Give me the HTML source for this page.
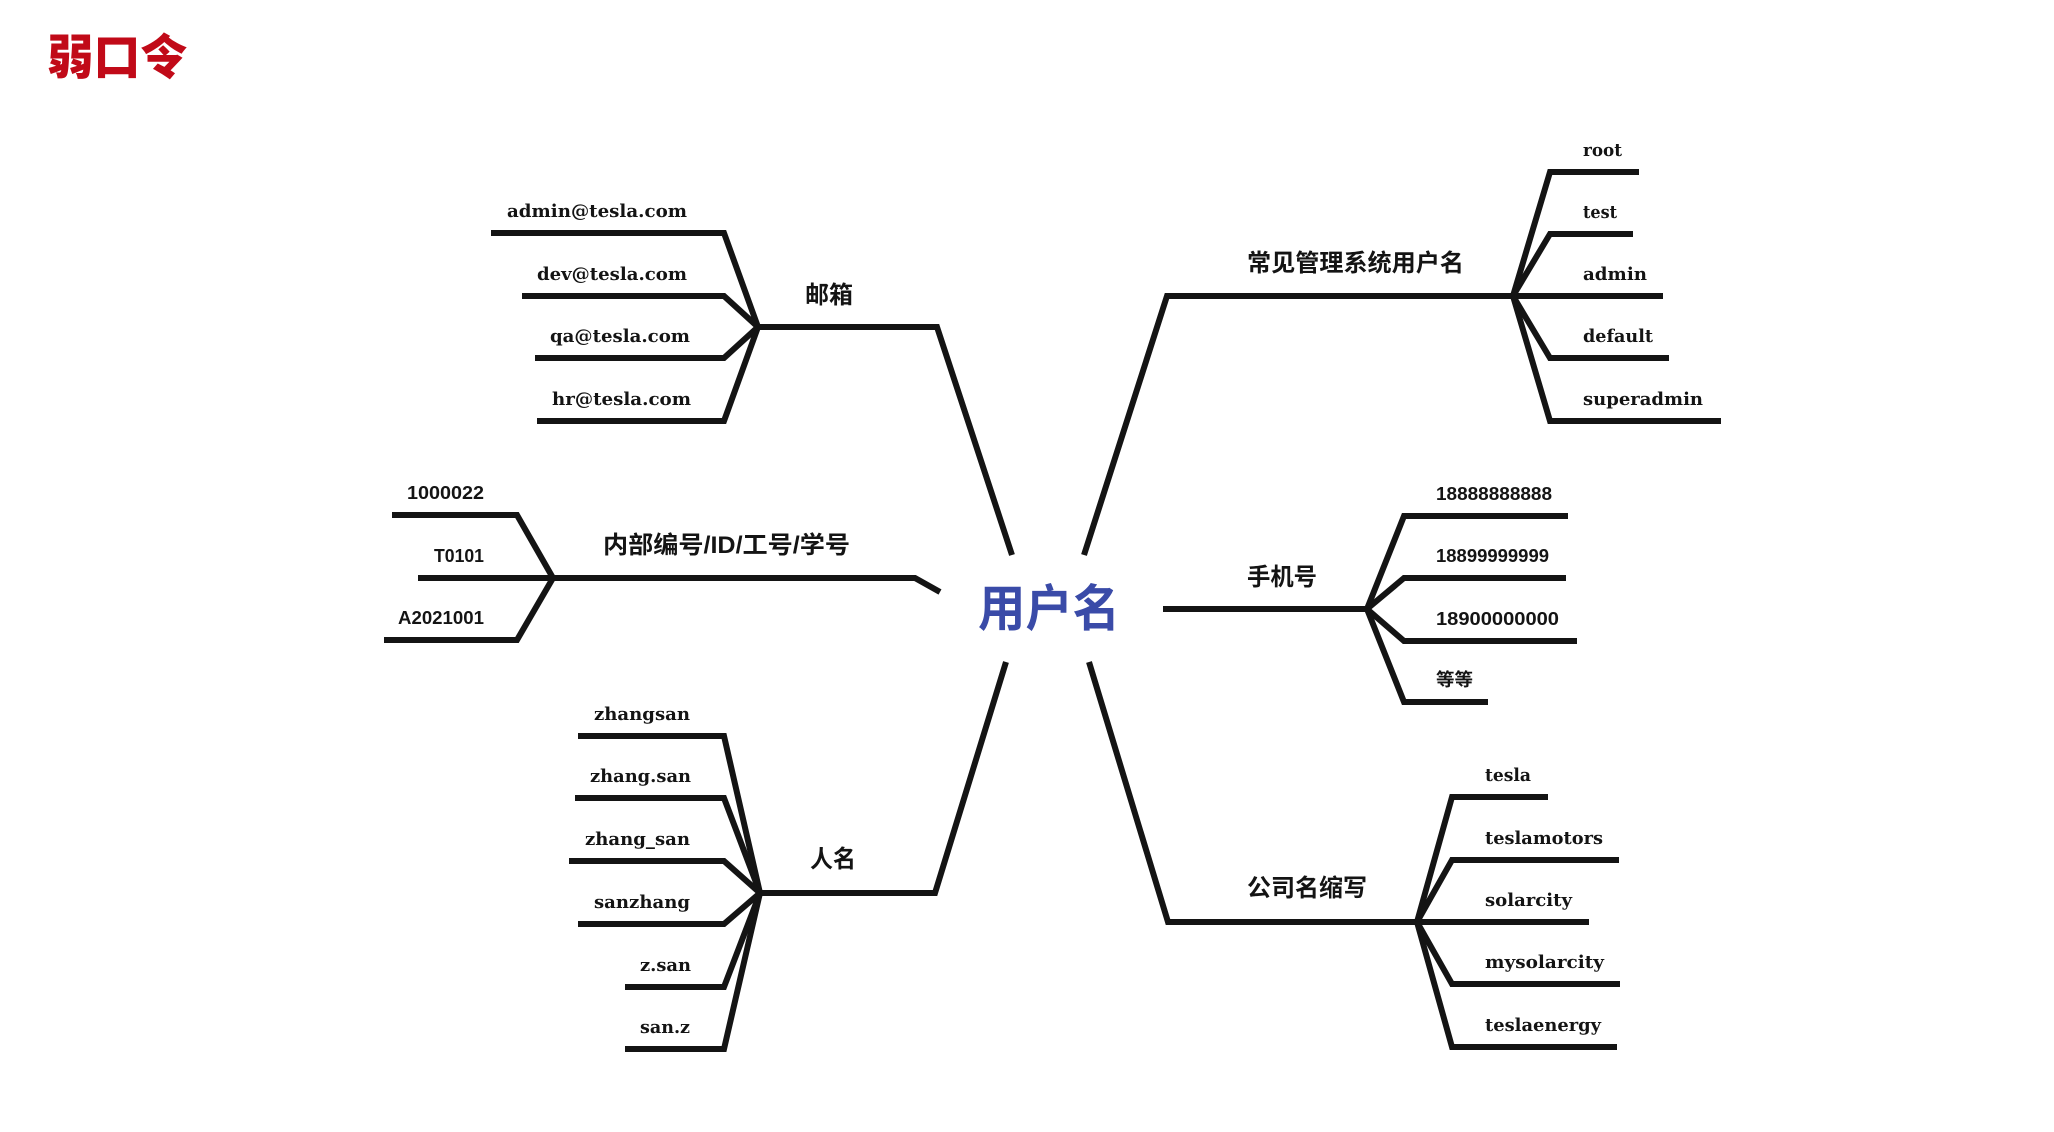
<!DOCTYPE html>
<html>
<head>
<meta charset="utf-8">
<style>
  html, body { margin:0; padding:0; background:#ffffff; }
  svg { display:block; }
  .ln { fill:none; stroke:#141414; stroke-width:6; stroke-linejoin:miter; stroke-linecap:butt; }
  .lf { font-family:"DejaVu Serif","Liberation Serif",serif; font-weight:bold; font-size:18px; fill:#141414; }
  .num { font-family:"Liberation Sans","DejaVu Sans",sans-serif; font-weight:bold; font-size:18px; fill:#141414; }
  .cn { font-family:"Liberation Sans","Noto Sans CJK SC",sans-serif; font-weight:bold; font-size:24px; fill:#141414; }
  .cns { font-family:"Liberation Sans","Noto Sans CJK SC",sans-serif; font-weight:bold; font-size:18px; fill:#141414; }
</style>
</head>
<body>
<svg width="2054" height="1132" viewBox="0 0 2054 1132" xmlns="http://www.w3.org/2000/svg">
  <rect width="2054" height="1132" fill="#ffffff"/>

  <!-- Title -->
  <text x="47" y="74" textLength="140" lengthAdjust="spacingAndGlyphs" style="font-family:'Noto Sans CJK SC','WenQuanYi Zen Hei',sans-serif;font-weight:900;font-size:48px;fill:#c10a18;">弱口令</text>

  <!-- Center -->
  <text x="978" y="626" textLength="142" lengthAdjust="spacingAndGlyphs" style="font-family:'Noto Sans CJK SC',sans-serif;font-weight:bold;font-size:50px;fill:#3a4ba8;">用户名</text>

  <!-- Email group -->
  <path class="ln" d="M491,233 H724 L758,327"/>
  <path class="ln" d="M522,296 H724 L758,327"/>
  <path class="ln" d="M535,358 H724 L758,327"/>
  <path class="ln" d="M537,421 H724 L758,327"/>
  <path class="ln" d="M758,327 H937 L1012,555"/>

  <!-- ID group -->
  <path class="ln" d="M392,515 H517 L553,578"/>
  <path class="ln" d="M384,640 H517 L553,578"/>
  <path class="ln" d="M418,578 H915 L940,592"/>

  <!-- Names group -->
  <path class="ln" d="M578,736 H724 L760,893"/>
  <path class="ln" d="M575,798 H724 L760,893"/>
  <path class="ln" d="M569,861 H724 L760,893"/>
  <path class="ln" d="M578,924 H724 L760,893"/>
  <path class="ln" d="M625,987 H724 L760,893"/>
  <path class="ln" d="M625,1049 H724 L760,893"/>
  <path class="ln" d="M760,893 H935 L1006,662"/>

  <!-- Right top -->
  <path class="ln" d="M1084,555 L1167,296 H1663"/>
  <path class="ln" d="M1513,296 L1550,172 H1639"/>
  <path class="ln" d="M1513,296 L1550,234 H1633"/>
  <path class="ln" d="M1513,296 L1550,358 H1669"/>
  <path class="ln" d="M1513,296 L1550,421 H1721"/>

  <!-- Phone -->
  <path class="ln" d="M1163,609 H1367"/>
  <path class="ln" d="M1367,609 L1404,516 H1568"/>
  <path class="ln" d="M1367,609 L1404,578 H1566"/>
  <path class="ln" d="M1367,609 L1404,641 H1577"/>
  <path class="ln" d="M1367,609 L1404,702 H1488"/>

  <!-- Company -->
  <path class="ln" d="M1089,662 L1168,922 H1589"/>
  <path class="ln" d="M1417,922 L1452,797 H1548"/>
  <path class="ln" d="M1417,922 L1452,860 H1619"/>
  <path class="ln" d="M1417,922 L1452,984 H1620"/>
  <path class="ln" d="M1417,922 L1452,1047 H1617"/>

  <!-- Branch labels -->
  <text class="cn" x="805" y="303" textLength="48" lengthAdjust="spacingAndGlyphs">邮箱</text>
  <text class="cn" x="603" y="553" textLength="247" lengthAdjust="spacingAndGlyphs">内部编号/ID/工号/学号</text>
  <text class="cn" x="810" y="867" textLength="46" lengthAdjust="spacingAndGlyphs">人名</text>
  <text class="cn" x="1247" y="271" textLength="217" lengthAdjust="spacingAndGlyphs">常见管理系统用户名</text>
  <text class="cn" x="1247" y="585" textLength="70" lengthAdjust="spacingAndGlyphs">手机号</text>
  <text class="cn" x="1247" y="896" textLength="120" lengthAdjust="spacingAndGlyphs">公司名缩写</text>

  <!-- Email leaves -->
  <text class="lf" x="507" y="217" textLength="180" lengthAdjust="spacingAndGlyphs">admin@tesla.com</text>
  <text class="lf" x="537" y="280" textLength="150" lengthAdjust="spacingAndGlyphs">dev@tesla.com</text>
  <text class="lf" x="550" y="342" textLength="140" lengthAdjust="spacingAndGlyphs">qa@tesla.com</text>
  <text class="lf" x="552" y="405" textLength="139" lengthAdjust="spacingAndGlyphs">hr@tesla.com</text>

  <!-- ID leaves -->
  <text class="num" x="407" y="499" textLength="77" lengthAdjust="spacingAndGlyphs">1000022</text>
  <text class="num" x="434" y="562" textLength="50" lengthAdjust="spacingAndGlyphs">T0101</text>
  <text class="num" x="398" y="624" textLength="86" lengthAdjust="spacingAndGlyphs">A2021001</text>

  <!-- Name leaves -->
  <text class="lf" x="594" y="720" textLength="96" lengthAdjust="spacingAndGlyphs">zhangsan</text>
  <text class="lf" x="590" y="782" textLength="101" lengthAdjust="spacingAndGlyphs">zhang.san</text>
  <text class="lf" x="585" y="845" textLength="105" lengthAdjust="spacingAndGlyphs">zhang_san</text>
  <text class="lf" x="594" y="908" textLength="96" lengthAdjust="spacingAndGlyphs">sanzhang</text>
  <text class="lf" x="640" y="971" textLength="51" lengthAdjust="spacingAndGlyphs">z.san</text>
  <text class="lf" x="640" y="1033" textLength="50" lengthAdjust="spacingAndGlyphs">san.z</text>

  <!-- Admin usernames -->
  <text class="lf" x="1583" y="156" textLength="39" lengthAdjust="spacingAndGlyphs">root</text>
  <text class="lf" x="1583" y="218" textLength="34" lengthAdjust="spacingAndGlyphs">test</text>
  <text class="lf" x="1583" y="280" textLength="64" lengthAdjust="spacingAndGlyphs">admin</text>
  <text class="lf" x="1583" y="342" textLength="70" lengthAdjust="spacingAndGlyphs">default</text>
  <text class="lf" x="1583" y="405" textLength="120" lengthAdjust="spacingAndGlyphs">superadmin</text>

  <!-- Phone leaves -->
  <text class="num" x="1436" y="500" textLength="116" lengthAdjust="spacingAndGlyphs">18888888888</text>
  <text class="num" x="1436" y="562" textLength="113" lengthAdjust="spacingAndGlyphs">18899999999</text>
  <text class="num" x="1436" y="625" textLength="123" lengthAdjust="spacingAndGlyphs">18900000000</text>
  <text class="cns" x="1436" y="686" textLength="37" lengthAdjust="spacingAndGlyphs">等等</text>

  <!-- Company leaves -->
  <text class="lf" x="1485" y="781" textLength="46" lengthAdjust="spacingAndGlyphs">tesla</text>
  <text class="lf" x="1485" y="844" textLength="118" lengthAdjust="spacingAndGlyphs">teslamotors</text>
  <text class="lf" x="1485" y="906" textLength="87" lengthAdjust="spacingAndGlyphs">solarcity</text>
  <text class="lf" x="1485" y="968" textLength="119" lengthAdjust="spacingAndGlyphs">mysolarcity</text>
  <text class="lf" x="1485" y="1031" textLength="116" lengthAdjust="spacingAndGlyphs">teslaenergy</text>
</svg>
</body>
</html>
